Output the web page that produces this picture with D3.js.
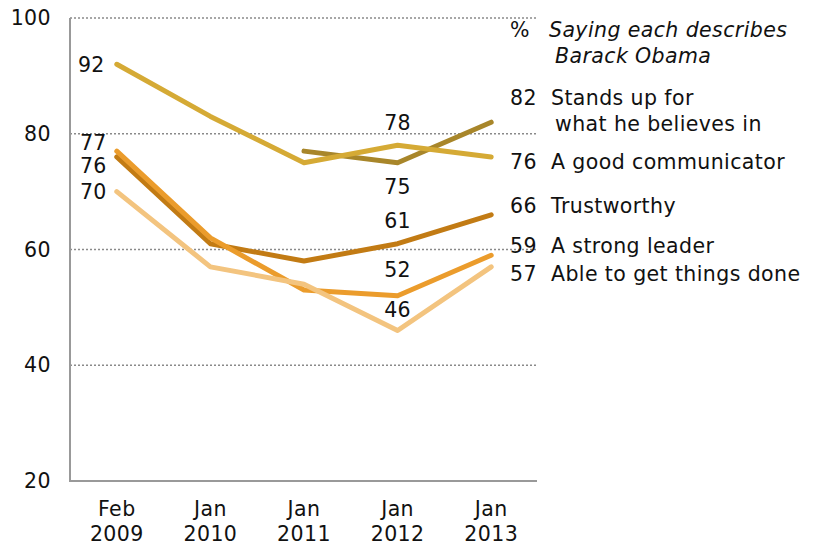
<!DOCTYPE html>
<html>
<head>
<meta charset="utf-8">
<script src="https://cdn.jsdelivr.net/npm/d3@7"></script>
<style>
  body { margin: 0; background: #fff; }
  svg { display: block; }
  text { font-family: "DejaVu Sans", Verdana, sans-serif; fill: #111; letter-spacing: 0.4px; }
</style>
</head>
<body>
<svg id="chart" width="814" height="545"></svg>
<script>
const periods = ["Feb 2009", "Jan 2010", "Jan 2011", "Jan 2012", "Jan 2013"];
const yTicks = [20, 40, 60, 80, 100];

const seriesNames = ["Stands up for what he believes in", "A good communicator", "Trustworthy", "A strong leader", "Able to get things done"];
const standsUp     = [null, null, 77, 75, 82];
const communicator = [92, 83, 75, 78, 76];
const trustworthy  = [76, 61, 58, 61, 66];
const strongLeader = [77, 62, 53, 52, 59];
const getsDone     = [70, 57, 54, 46, 57];
const colors = ["#a8862a", "#d5aa35", "#c27b14", "#eb9c2c", "#f3c47f"];

const series = [standsUp, communicator, trustworthy, strongLeader, getsDone];

const svg = d3.select("#chart");
const mLeft = 70, mRight = 538, mTop = 18, mBottom = 481;
const fs = 20.5;

const x = d3.scalePoint().domain(periods).range([mLeft, mRight]).padding(0.5);
const y = d3.scaleLinear().domain([20, 100]).range([mBottom, mTop]);

// gridlines
svg.append("g").selectAll("line").data(yTicks.filter(t => t > 20)).join("line")
  .attr("x1", mLeft).attr("x2", mRight - 1)
  .attr("y1", d => y(d)).attr("y2", d => y(d))
  .attr("stroke", "#8a8a8a").attr("stroke-width", 1.3).attr("stroke-dasharray", "2,2");

// axes lines
svg.append("line").attr("x1", mLeft).attr("x2", mLeft).attr("y1", y(100)).attr("y2", y(20))
  .attr("stroke", "#999").attr("stroke-width", 2);
svg.append("line").attr("x1", mLeft - 1).attr("x2", mRight - 1).attr("y1", y(20)).attr("y2", y(20))
  .attr("stroke", "#999").attr("stroke-width", 2);

// y tick labels
svg.append("g").selectAll("text").data(yTicks).join("text")
  .attr("x", 51).attr("y", d => y(d) + 7)
  .attr("text-anchor", "end").attr("font-size", fs).text(d => d);

// x tick labels
const xl = svg.append("g").selectAll("text").data(periods).join("text")
  .attr("text-anchor", "middle").attr("font-size", fs);
xl.append("tspan").attr("x", d => x(d)).attr("y", 516).text(d => d.split(" ")[0]);
xl.append("tspan").attr("x", d => x(d)).attr("y", 541).text(d => d.split(" ")[1]);

// lines
const line = d3.line()
  .defined(d => d.v !== null)
  .x(d => x(d.p)).y(d => y(d.v));
series.forEach((s, i) => {
  const pts = s.map((v, j) => ({ p: periods[j], v }));
  svg.append("path").datum(pts)
    .attr("d", line).attr("fill", "none")
    .attr("stroke", colors[i]).attr("stroke-width", 5)
    .attr("stroke-linejoin", "round").attr("stroke-linecap", "round");
});

// point labels
const pl = [
  { s: 1, j: 0, anchor: "end", dx: -12, y: 72 },
  { s: 3, j: 0, anchor: "end", dx: -10, y: 150 },
  { s: 2, j: 0, anchor: "end", dx: -10, y: 173 },
  { s: 4, j: 0, anchor: "end", dx: -10, y: 199 },
  { s: 1, j: 3, anchor: "middle", dx: 0, y: 130 },
  { s: 0, j: 3, anchor: "middle", dx: 0, y: 194 },
  { s: 2, j: 3, anchor: "middle", dx: 0, y: 228 },
  { s: 3, j: 3, anchor: "middle", dx: 0, y: 277 },
  { s: 4, j: 3, anchor: "middle", dx: 0, y: 317 }
];
svg.append("g").selectAll("text").data(pl).join("text")
  .attr("x", d => x(periods[d.j]) + d.dx).attr("y", d => d.y)
  .attr("text-anchor", d => d.anchor).attr("font-size", fs)
  .text(d => series[d.s][d.j]);

// header
const hdr = svg.append("g");
hdr.append("text").attr("x", 510).attr("y", 37).attr("font-size", fs).text("%");
hdr.append("text").attr("x", 549).attr("y", 37).attr("font-size", fs).attr("font-style", "italic").text("Saying each describes");
hdr.append("text").attr("x", 555).attr("y", 63).attr("font-size", fs).attr("font-style", "italic").text("Barack Obama");

// right legend labels
const legendY = [105, 169, 213, 253, 281];
const rl = svg.append("g");
series.forEach((s, i) => {
  rl.append("text").attr("x", 510).attr("y", legendY[i]).attr("font-size", fs).text(s[4]);
});
rl.append("text").attr("x", 551).attr("y", 105).attr("font-size", fs).text("Stands up for");
rl.append("text").attr("x", 555).attr("y", 131).attr("font-size", fs).text("what he believes in");
[1, 2, 3, 4].forEach(i => {
  rl.append("text").attr("x", 551).attr("y", legendY[i]).attr("font-size", fs).text(seriesNames[i]);
});
</script>
</body>
</html>
